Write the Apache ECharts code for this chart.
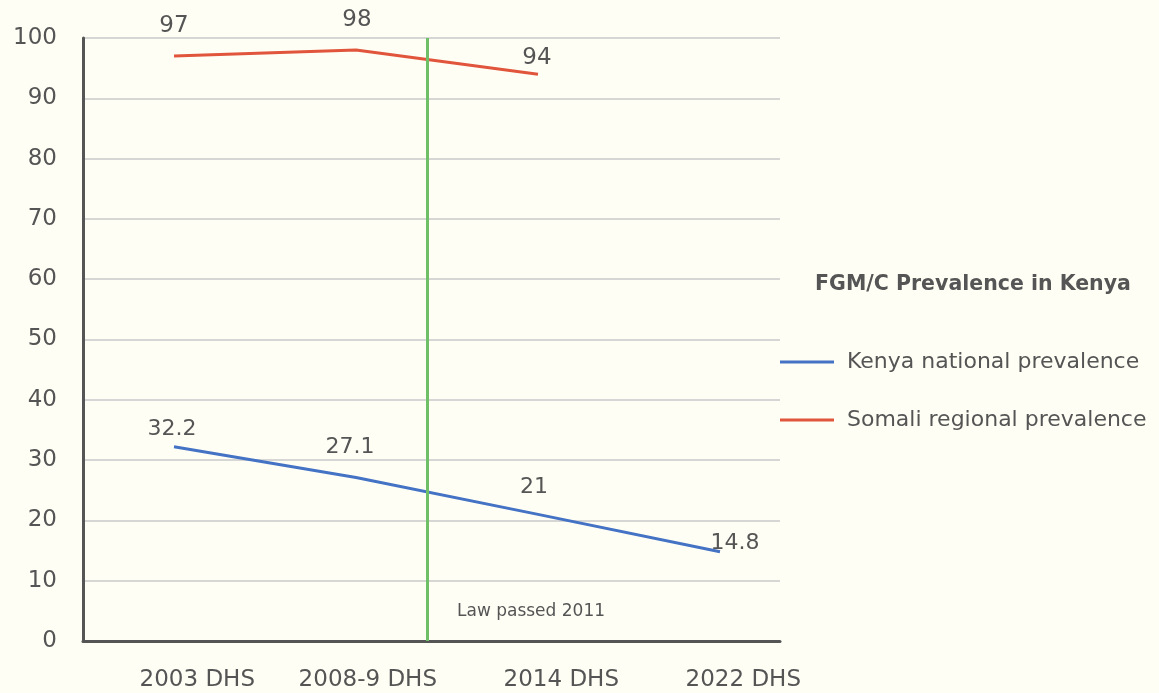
<!DOCTYPE html>
<html>
<head>
<meta charset="utf-8">
<script src="https://cdn.jsdelivr.net/npm/echarts@6/dist/echarts.min.js"></script>
<style>
html, body { margin: 0; padding: 0; background: #fffef5; }
#main { width: 1159px; height: 693px; }
</style>
</head>
<body>
<div id="main"></div>
<script>
// survey rounds
var surveys = ['2003 DHS', '2008-9 DHS', '2014 DHS', '2022 DHS'];
// prevalence (%)
var kenyaNational = [32.2, 27.1, 21, 14.8];
var somaliRegional = [97, 98, 94];
var yTicks = [0, 100, 10];  // min, max, step
var lawLabel = 'Law passed 2011';
var lawPos = 1.39; // between 2008-9 and 2014 rounds

var txt = '#555';
var font = "'DejaVu Sans', sans-serif";

// label nudges per point (style only)
var kenyaLabelShift = [[-2, -7], [-6, -19], [-4, -16], [15, 3]];
var somaliLabelShift = [[0, -19], [1, -19], [-1, -5]];

function toPoints(vals, shifts) {
	return vals.map(function (v, i) {
		return {
			value: [i, v],
			label: { offset: shifts[i] }
		};
	});
}

var chart = echarts.init(document.getElementById('main'));
var option = {
	backgroundColor: '#fffef5',
	animation: false,
	textStyle: { fontFamily: font },
	title: {
		text: 'FGM/C Prevalence in Kenya',
		left: 968,
		top: 269,
		textAlign: 'center',
		textStyle: { color: txt, fontSize: 20.5, fontWeight: 'bold', fontFamily: font }
	},
	legend: {
		orient: 'vertical',
		left: 780,
		top: 351,
		padding: 0,
		itemWidth: 54,
		itemHeight: 3,
		itemGap: 36,
		icon: 'rect',
		textStyle: { color: txt, fontSize: 22, fontFamily: font, padding: [0, 0, 0, 8] },
		data: ['Kenya national prevalence', 'Somali regional prevalence']
	},
	grid: [
		{ left: 83, top: 38, width: 697, height: 603 },
		{ left: 83, top: 38, width: 728, height: 603 },
		{ left: 164, top: 38, width: 728, height: 603 }
	],
	xAxis: [
		{
			gridIndex: 0, type: 'category', data: surveys,
			axisLine: { lineStyle: { color: '#555', width: 3 } },
			axisTick: { show: false }, axisLabel: { show: false }
		},
		{
			gridIndex: 1, type: 'value', min: -0.5, max: 3.5, show: false
		},
		{
			gridIndex: 2, type: 'category', data: surveys,
			axisLine: { show: false }, axisTick: { show: false },
			axisLabel: { align: 'right', margin: 28, color: txt, fontSize: 23, fontFamily: font }
		}
	],
	yAxis: [
		{
			gridIndex: 0, type: 'value', min: yTicks[0], max: yTicks[1], interval: yTicks[2],
			axisLine: { show: true, lineStyle: { color: '#555', width: 3 } },
			axisTick: { show: false },
			axisLabel: { margin: 26, color: txt, fontSize: 23, fontFamily: font },
			splitLine: { lineStyle: { color: '#c8c8c8', width: 1.5 } }
		},
		{ gridIndex: 1, type: 'value', min: yTicks[0], max: yTicks[1], show: false },
		{ gridIndex: 2, type: 'value', min: yTicks[0], max: yTicks[1], show: false }
	],
	series: [
		{
			name: 'Kenya national prevalence',
			type: 'line',
			xAxisIndex: 1, yAxisIndex: 1,
			showSymbol: true,
			symbol: 'circle',
			symbolSize: 0,
			lineStyle: { color: '#4472c4', width: 3 },
			itemStyle: { color: '#4472c4' },
			label: { show: true, position: 'top', distance: 0, color: txt, fontSize: 22, fontFamily: font },
			data: toPoints(kenyaNational, kenyaLabelShift),
			markLine: {
				silent: true,
				symbol: 'none',
				label: { show: false },
				lineStyle: { color: '#6fbf66', width: 3, type: 'solid' },
				data: [{ xAxis: lawPos }]
			}
		},
		{
			name: 'Somali regional prevalence',
			type: 'line',
			xAxisIndex: 1, yAxisIndex: 1,
			showSymbol: true,
			symbol: 'circle',
			symbolSize: 0,
			lineStyle: { color: '#e0553b', width: 3 },
			itemStyle: { color: '#e0553b' },
			label: { show: true, position: 'top', distance: 0, color: txt, fontSize: 23, fontFamily: font },
			data: toPoints(somaliRegional, somaliLabelShift)
		}
	],
	graphic: [
		{
			type: 'text',
			left: 457,
			top: 603,
			style: { text: lawLabel, fill: txt, fontSize: 17, fontFamily: font }
		}
	]
};
chart.setOption(option);
</script>
</body>
</html>
